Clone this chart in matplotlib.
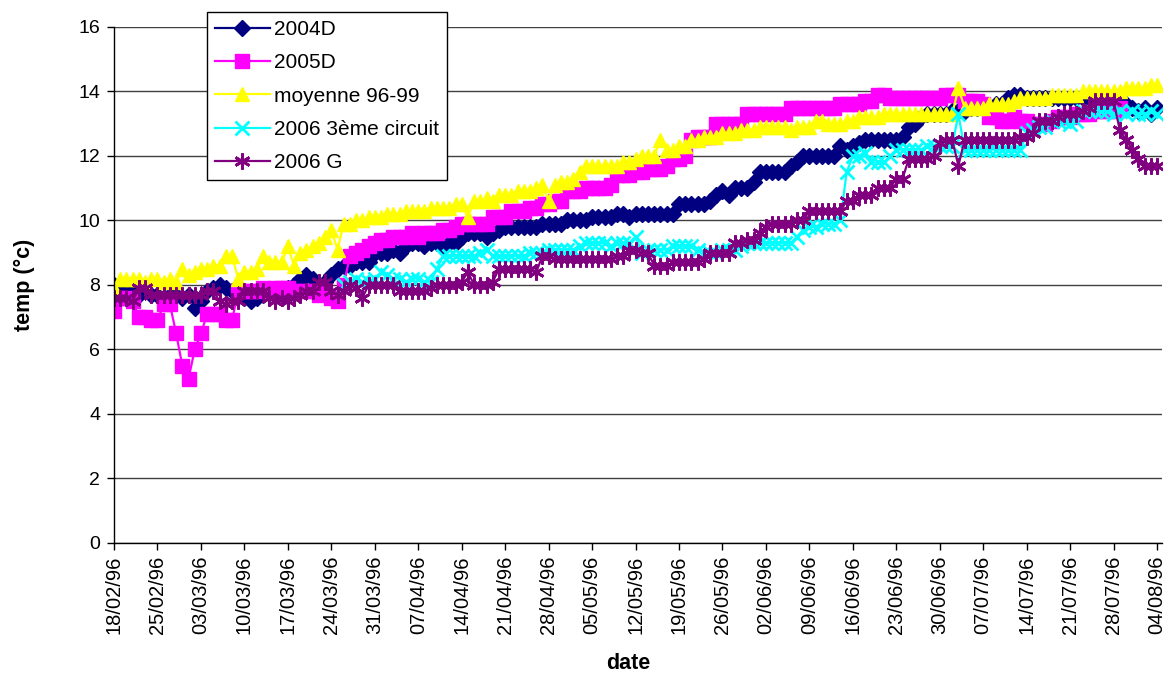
import matplotlib
matplotlib.use("Agg")
import matplotlib.pyplot as plt
import matplotlib.dates as mdates
import pandas as pd

plt.rcParams['font.family'] = ['Liberation Sans', 'DejaVu Sans']

# un relevé par jour du 18/02 au 04/08
debut = '1996-02-18'
fin = '1996-08-04'
jours = pd.date_range(debut, fin, freq='D')
ticks = pd.date_range(debut, fin, freq='7D')

t_2004D = [
    8.0, 7.9, 7.8, 7.8, 7.7, 7.8, 7.7,
    7.7, 7.6, 7.7, 7.7, 7.6, 7.7, 7.3,
    7.5, 7.8, 7.9, 8.0, 7.9, 7.8, 7.7,
    7.6, 7.5, 7.6, 7.7, 7.8, 7.8, 7.7,
    7.9, 8.0, 8.2, 8.3, 8.2, 8.0, 8.1,
    8.3, 8.5, 8.6, 8.6, 8.7, 8.7, 8.7,
    9.0, 9.0, 9.0, 9.1, 9.0, 9.2, 9.3,
    9.3, 9.2, 9.3, 9.3, 9.2, 9.3, 9.3,
    9.5, 9.6, 9.6, 9.6, 9.5, 9.6, 9.7,
    9.8, 9.8, 9.8, 9.8, 9.8, 9.8, 9.9,
    9.9, 9.9, 9.9, 10.0, 10.0, 10.0, 10.0,
    10.1, 10.1, 10.1, 10.1, 10.2, 10.2, 10.1,
    10.2, 10.2, 10.2, 10.2, 10.2, 10.2, 10.2,
    10.5, 10.5, 10.5, 10.5, 10.5, 10.6, 10.8,
    10.9, 10.8, 11.0, 11.0, 11.0, 11.2, 11.5,
    11.5, 11.5, 11.5, 11.5, 11.7, 11.8, 12.0,
    12.0, 12.0, 12.0, 12.0, 12.0, 12.3, 12.2,
    12.3, 12.4, 12.5, 12.5, 12.5, 12.5, 12.5,
    12.5, 12.6, 12.9, 13.0, 13.2, 13.3, 13.3,
    13.3, 13.3, 13.4, 13.4, 13.4, 13.5, 13.5,
    13.5, 13.5, 13.6, 13.6, 13.8, 13.9, 13.9,
    13.8, 13.8, 13.8, 13.8, 13.8, 13.8, 13.8,
    13.8, 13.8, 13.8, 13.8, 13.8, 13.8, 13.7,
    13.6, 13.6, 13.6, 13.5, 13.4, 13.5, 13.3,
    13.5,
]

t_2005D = [
    7.2, 7.6, 7.6, 7.5, 7.0, 7.0, 6.9,
    6.9, 7.4, 7.4, 6.5, 5.5, 5.1, 6.0,
    6.5, 7.1, 7.1, 7.1, 6.9, 6.9, 7.8,
    7.8, 7.8, 7.8, 7.9, 7.8, 7.9, 7.9,
    7.9, 7.8, 7.8, 7.8, 7.8, 7.7, 7.8,
    7.6, 7.5, 8.0, 8.9, 9.0, 9.1, 9.2,
    9.3, 9.4, 9.4, 9.5, 9.5, 9.5, 9.6,
    9.5, 9.6, 9.6, 9.6, 9.7, 9.7, 9.8,
    9.9, 9.9, 9.9, 9.9, 9.9, 10.1, 10.1,
    10.1, 10.3, 10.3, 10.3, 10.4, 10.4, 10.5,
    10.5, 10.6, 10.6, 10.9, 10.9, 10.9, 11.0,
    11.0, 11.0, 11.0, 11.1, 11.4, 11.4, 11.4,
    11.5, 11.5, 11.6, 11.6, 11.6, 11.7, 11.9,
    11.9, 12.0, 12.5, 12.6, 12.6, 12.6, 13.0,
    13.0, 13.0, 13.0, 13.0, 13.3, 13.3, 13.3,
    13.3, 13.3, 13.3, 13.3, 13.5, 13.5, 13.5,
    13.5, 13.5, 13.5, 13.5, 13.5, 13.6, 13.6,
    13.6, 13.6, 13.7, 13.7, 13.9, 13.9, 13.8,
    13.8, 13.8, 13.8, 13.8, 13.8, 13.8, 13.8,
    13.8, 13.9, 13.9, 13.9, 13.7, 13.7, 13.7,
    13.6, 13.2, 13.2, 13.1, 13.1, 13.2, 13.1,
    13.1, 13.0, 13.0, 13.0, 13.1, 13.2, 13.2,
    13.2, 13.3, 13.3, 13.3, 13.4, 13.4, 13.4,
    13.4, 13.5,
]

t_moyenne = [
    7.9, 8.2, 8.2, 8.2, 8.2, 8.1, 8.2,
    8.2, 8.1, 8.2, 8.1, 8.5, 8.3, 8.4,
    8.5, 8.5, 8.6, 8.6, 8.9, 8.9, 8.2,
    8.4, 8.4, 8.5, 8.9, 8.7, 8.7, 8.7,
    9.2, 8.6, 9.0, 9.1, 9.2, 9.3, 9.5,
    9.7, 9.1, 9.9, 9.9, 10.0, 10.0, 10.1,
    10.1, 10.1, 10.2, 10.2, 10.2, 10.3, 10.3,
    10.3, 10.3, 10.4, 10.4, 10.4, 10.4, 10.5,
    10.5, 10.1, 10.6, 10.6, 10.7, 10.6, 10.8,
    10.8, 10.8, 10.9, 10.9, 10.9, 11.0, 11.1,
    10.6, 11.1, 11.2, 11.2, 11.3, 11.5, 11.7,
    11.7, 11.7, 11.7, 11.7, 11.7, 11.8, 11.8,
    11.9, 12.0, 12.0, 12.0, 12.5, 12.2, 12.2,
    12.3, 12.3, 12.5, 12.5, 12.6, 12.6, 12.6,
    12.7, 12.7, 12.7, 12.8, 12.8, 12.8, 12.9,
    12.9, 12.9, 12.9, 12.9, 12.8, 12.9, 12.9,
    12.9, 13.1, 13.1, 13.0, 13.0, 13.0, 13.1,
    13.1, 13.2, 13.2, 13.2, 13.2, 13.3, 13.3,
    13.3, 13.3, 13.3, 13.3, 13.3, 13.3, 13.3,
    13.3, 13.3, 13.3, 14.1, 13.5, 13.5, 13.5,
    13.5, 13.6, 13.6, 13.6, 13.6, 13.7, 13.8,
    13.8, 13.8, 13.8, 13.8, 13.9, 13.9, 13.9,
    13.9, 13.9, 14.0, 14.0, 14.0, 14.0, 14.0,
    14.0, 14.0, 14.1, 14.1, 14.1, 14.1, 14.2,
    14.2,
]

# le 3ème circuit n'a été suivi qu'à partir du 26/03
debut_circuit = '1996-03-26'
t_2006_circuit = [
    8.0, 8.1, 8.2, 8.1, 8.1,
    8.2, 8.4, 8.3, 8.2, 8.2, 8.1, 8.2,
    8.2, 8.1, 8.1, 8.5, 8.9, 8.9, 8.9,
    8.9, 8.9, 8.9, 9.0, 9.1, 8.9, 8.9,
    8.9, 8.9, 8.9, 8.9, 9.0, 9.0, 9.0,
    9.1, 9.1, 9.1, 9.1, 9.1, 9.2, 9.3,
    9.3, 9.3, 9.3, 9.2, 9.3, 9.3, 9.3,
    9.5, 9.0, 9.1, 9.1, 9.1, 9.1, 9.2,
    9.2, 9.2, 9.2, 9.1, 9.0, 9.0, 9.0,
    9.1, 9.1, 9.1, 9.2, 9.3, 9.3, 9.3,
    9.3, 9.3, 9.3, 9.3, 9.3, 9.5, 9.7,
    9.8, 9.8, 9.9, 9.9, 9.9, 10.0, 11.5,
    12.0, 12.0, 12.1, 11.8, 11.8, 11.8, 12.0,
    12.2, 12.2, 12.2, 12.2, 12.2, 12.3, 12.3,
    12.3, 12.3, 12.3, 13.3, 12.2, 12.2, 12.2,
    12.2, 12.2, 12.2, 12.2, 12.2, 12.2, 12.2,
    12.7, 12.8, 12.9, 12.9, 13.1, 13.1, 13.1,
    13.0, 13.1, 13.4, 13.4, 13.4, 13.4, 13.4,
    13.3, 13.4, 13.3, 13.4, 13.3, 13.3, 13.4,
    13.3,
]

t_2006G = [
    7.6, 7.6, 7.6, 7.5, 7.9, 7.9, 7.7,
    7.7, 7.7, 7.7, 7.7, 7.7, 7.7, 7.7,
    7.7, 7.8, 7.8, 7.5, 7.4, 7.5, 7.5,
    7.8, 7.8, 7.8, 7.8, 7.6, 7.5, 7.6,
    7.5, 7.6, 7.7, 7.8, 7.8, 8.1, 8.1,
    7.8, 7.7, 7.8, 8.0, 7.9, 7.6, 8.0,
    8.0, 8.0, 8.0, 8.0, 7.8, 7.8, 7.8,
    7.8, 7.8, 7.9, 8.0, 8.0, 8.0, 8.0,
    8.1, 8.4, 8.0, 8.0, 8.0, 8.1, 8.5,
    8.5, 8.5, 8.5, 8.5, 8.5, 8.4, 8.9,
    8.9, 8.8, 8.8, 8.8, 8.8, 8.8, 8.8,
    8.8, 8.8, 8.8, 8.8, 8.9, 8.9, 9.1,
    9.1, 9.0, 9.0, 8.6, 8.6, 8.6, 8.7,
    8.7, 8.7, 8.7, 8.7, 8.8, 9.0, 9.0,
    9.0, 9.0, 9.3, 9.3, 9.4, 9.4, 9.6,
    9.8, 9.9, 9.9, 9.9, 9.9, 10.0, 10.0,
    10.3, 10.3, 10.3, 10.3, 10.3, 10.3, 10.6,
    10.6, 10.8, 10.8, 10.8, 11.0, 11.0, 11.0,
    11.3, 11.3, 11.9, 11.9, 11.9, 11.9, 12.0,
    12.4, 12.5, 12.5, 11.7, 12.5, 12.5, 12.5,
    12.5, 12.5, 12.5, 12.5, 12.5, 12.5, 12.6,
    12.6, 12.7, 13.1, 13.1, 13.1, 13.2, 13.3,
    13.3, 13.3, 13.4, 13.5, 13.7, 13.7, 13.7,
    13.7, 12.8, 12.5, 12.2, 11.9, 11.7, 11.7,
    11.7,
]

jours_circuit = pd.date_range(debut_circuit, periods=len(t_2006_circuit), freq='D')

# (dates, valeurs, nom, couleur, marqueur, taille, épaisseur du trait du marqueur)
series = [
    (jours[:len(t_2004D)], t_2004D, '2004D', '#000080', 'D', 8.5, 1),
    (jours[:len(t_2005D)], t_2005D, '2005D', '#FF00FF', 's', 10, 1),
    (jours[:len(t_moyenne)], t_moyenne, 'moyenne 96-99', '#FFFF00', '^', 10.5, 1),
    (jours_circuit, t_2006_circuit, '2006 3ème circuit', '#00FFFF', 'x', 9.5, 2),
    (jours[:len(t_2006G)], t_2006G, '2006 G', '#800080', (6, 2, 0), 11.5, 2),
]

fig = plt.figure(figsize=(11.66, 6.73), dpi=100)
ax = fig.add_axes([0.0978, 0.1932, 0.8988, 0.7667])

for x, y, nom, couleur, marqueur, taille, trait in series:
    ax.plot(x, y, color=couleur, lw=1.6, marker=marqueur, ms=taille,
            mfc=couleur, mec=couleur, mew=trait, label=nom)

ax.set_ylim(0, 16)
ax.set_yticks(range(0, 17, 2))
ax.set_xlim(mdates.date2num(jours[0]), mdates.date2num(jours[-1]) + 0.8)
ax.set_xticks(ticks)
ax.xaxis.set_major_formatter(mdates.DateFormatter('%d/%m/%y'))
ax.tick_params(axis='x', labelrotation=90, labelsize=14.5, length=5, width=1, pad=4)
ax.tick_params(axis='y', labelsize=14, length=5, width=1, pad=5)

ax.yaxis.grid(True, color='#404040', lw=1)
ax.set_axisbelow(True)
for cote in ['top', 'right']:
    ax.spines[cote].set_visible(False)
for cote in ['left', 'bottom']:
    ax.spines[cote].set_color('black')
    ax.spines[cote].set_linewidth(1)

ax.set_xlabel('date', fontsize=15.5, fontweight='bold')
ax.xaxis.set_label_coords(0.4905, -0.213)
ax.set_ylabel('temp (°c)', fontsize=15.5, fontweight='bold')
ax.yaxis.set_label_coords(-0.075, 0.5)

leg = fig.legend(loc='upper left', bbox_to_anchor=(0.1775, 0.9822), fontsize=15,
                 frameon=True, fancybox=False, edgecolor='black', framealpha=1,
                 borderaxespad=0, handlelength=2.65, labelspacing=0.69,
                 borderpad=0.38, handletextpad=0.2)
leg.get_frame().set_linewidth(1)

fig.savefig('out.png', dpi=100)
